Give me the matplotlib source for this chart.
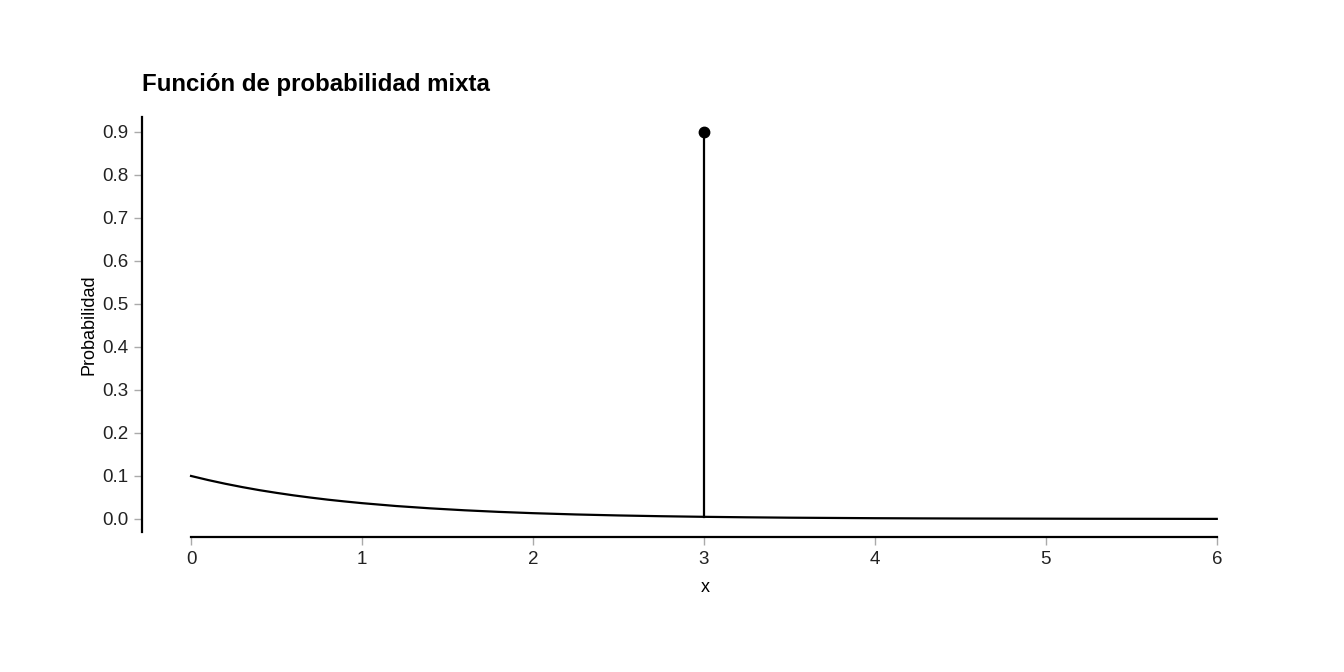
import matplotlib
matplotlib.use("Agg")
import matplotlib.pyplot as plt

plt.rcParams['font.family'] = ['Liberation Sans', 'DejaVu Sans']

# continuous part (density)
x_cont = [0.0, 0.1, 0.2, 0.3, 0.4, 0.5, 0.6, 0.7, 0.8, 0.9, 1.0, 1.2, 1.4, 1.6,
          1.8, 2.0, 2.25, 2.5, 2.75, 3.0, 3.25, 3.5, 3.75, 4.0, 4.25, 4.5,
          4.75, 5.0, 5.25, 5.5, 5.75, 6.0]
y_cont = [0.1000, 0.0905, 0.0819, 0.0741, 0.0670, 0.0607, 0.0549, 0.0497, 0.0449,
          0.0407, 0.0368, 0.0301, 0.0247, 0.0202, 0.0165, 0.0135, 0.0105, 0.0082,
          0.0064, 0.0050, 0.0039, 0.0030, 0.0024, 0.0018, 0.0014, 0.0011,
          0.0009, 0.0007, 0.0005, 0.0004, 0.0003, 0.0002]

# discrete mass
x_point = [3]
y_point = [0.9]

yticks = [0.0, 0.1, 0.2, 0.3, 0.4, 0.5, 0.6, 0.7, 0.8, 0.9]
xticks = [0, 1, 2, 3, 4, 5, 6]

fig = plt.figure(figsize=(13.44, 6.72), dpi=100)
ax = fig.add_axes([0.1057, 0.2009, 0.8378, 0.631])

ax.plot(x_cont, y_cont, color="black", lw=1.6)
for xp, yp in zip(x_point, y_point):
    y_base = y_cont[x_cont.index(xp)]
    ax.plot([xp, xp], [y_base, yp], color="black", lw=1.6)
ax.plot(x_point, y_point, 'o', color="black", ms=7.5)

ax.set_xlim(-0.2865, 6.3)
ax.set_ylim(-0.0419, 0.944)
ax.set_xticks(xticks)
ax.set_yticks(yticks)
ax.set_yticklabels([f"{v:.1f}" for v in yticks])

for s in ["top", "right"]:
    ax.spines[s].set_visible(False)
ax.spines["left"].set_linewidth(1.6)
ax.spines["bottom"].set_linewidth(1.6)
ax.spines["left"].set_bounds(-0.030, 0.935)
ax.spines["bottom"].set_bounds(0, 6)
ax.tick_params(axis="both", colors="#aaaaaa", length=6, width=1,
               labelcolor="#222222", labelsize=13.5, pad=4)

ax.set_xlabel("x", fontsize=13, labelpad=8)
ax.set_ylabel("Probabilidad", fontsize=13, labelpad=3)
ax.set_title("Función de probabilidad mixta", loc="left", fontsize=17.3,
             fontweight="bold", pad=16)

fig.savefig("out.png", dpi=100)
